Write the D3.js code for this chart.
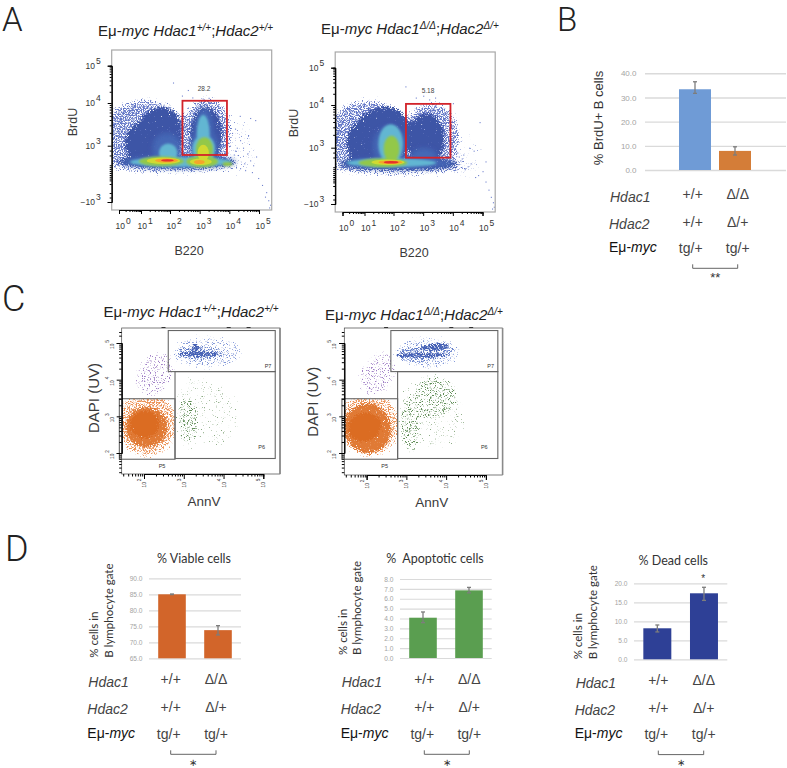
<!DOCTYPE html>
<html><head><meta charset="utf-8">
<style>body{margin:0;background:#fff}svg{display:block}text{font-family:"Liberation Sans",Arial,sans-serif}</style>
<script src="https://cdn.jsdelivr.net/npm/d3@7"></script></head>
<body><svg id="chart" width="787" height="768" viewBox="0 0 787 768"></svg>
<script>
/* ---------- bar chart values ---------- */
const brduValues=[33.4,7.9], brduLow=[31.7,6.2], brduHigh=[36.5,9.6];
const viableValues=[85.0,73.8], viableLow=[84.9,72.3], viableHigh=[85.1,75.2];
const apoptoticValues=[4.08,6.85], apoptoticLow=[3.58,6.6], apoptoticHigh=[4.66,7.15];
const deadValues=[8.16,17.37], deadLow=[7.2,15.5], deadHigh=[9.03,18.95];
const brduTicks=[0,10,20,30,40], viableTicks=[65,70,75,80,85,90], apoptoticTicks=[0,1,2,3,4,5,6,7,8], deadTicks=[0,5,10,15,20];
const hdac1Row=["+/+","Δ/Δ"], hdac2Row=["+/+","Δ/+"], mycRow=["tg/+","tg/+"];
const rowNames=["Hdac1","Hdac2"];
/* ---------- flow plots: density regions [level, xLo, xHi, yLo, yHi] in decade units ---------- */
const gateA1=[2.42,3.92,2.05,4.06], gateA2=[2.42,3.92,1.98,4.03];
const flowA1Blobs=[
[-1,3.85,5.0,-0.5,3.7],
[0,-0.86,2.67,0.31,4.15],[0,-0.6,1.6,0.4,4.1],[0,2.34,4.16,0.31,4.2],[0,-0.86,4.5,0,2.05],
[1,0.7,2.44,1.23,3.88],[1,1.0,2.42,2.4,3.95],[1,0.2,1.7,1.2,3.55],[1,2.64,3.8,1.23,3.93],[1,-0.32,4.35,0.61,2.05],
[2,1.4,2.38,1.23,3.3],[2,2.84,3.45,2.1,3.88],[2,2.67,3.62,1.23,3.37],[2,0.14,4.2,0.72,1.94],
[3,1.62,2.25,1.33,3.05],[3,2.9,3.34,2.1,3.72],[3,2.75,3.52,1.23,3.25],[3,0.5,4.07,0.82,1.84],
[4,2.87,3.45,1.33,3.2],[4,0.91,2.47,0.92,1.89],[4,2.54,3.62,0.82,1.94],[4,3.77,4.1,0.92,1.33],
[5,2.93,3.31,1.43,3.02],[5,1.2,2.34,1.13,1.79],[5,2.67,3.41,1.02,1.69],
[6,1.48,2.27,1.28,1.69],[6,2.81,3.17,1.13,1.54],
[7,1.69,2.13,1.38,1.62]];
const flowA2Blobs=[
[-1,3.85,5.1,-0.5,3.4],
[0,-0.86,2.67,0.31,4.19],[0,-0.6,1.6,0.4,4.15],[0,2.27,4.3,0.31,4.13],[0,-0.86,4.67,0,2.05],
[1,0.45,2.57,1.13,3.97],[1,0.95,2.55,2.4,4.0],[1,0.1,1.7,1.2,3.65],[1,2.44,3.77,1.23,3.84],[1,-0.32,4.35,0.61,2.05],
[2,1.3,2.42,1.23,3.5],[2,2.6,3.45,1.33,2.95],[2,-0.05,4.07,0.82,1.94],
[3,1.48,2.32,1.33,3.55],[3,0.18,3.45,1.02,1.89],
[4,1.66,2.2,1.53,3.28],[4,0.73,2.47,1.02,1.89],
[5,1.24,2.37,1.23,1.79],
[6,1.48,2.3,1.33,1.69],
[7,1.66,2.17,1.38,1.64]];
const sparseA1X=[5.10,5.24,5.31,5.37,5.20,5.34,4.97,4.76,4.53,4.36,4.70,4.87,4.70,4.63,4.36,4.19,4.46,4.29,4.09,4.19,4.02,4.9,4.5,4.35,4.15,4.25,2.1,2.6,2.4,2.75,3.1,3.3,4.6,4.8];
const sparseA1Y=[-1.1,-1.9,-2.8,-3.3,-2.4,-3.6,-0.33,0.3,0.5,0.7,1.5,3.6,3.65,3.25,3.13,3.4,2.8,2.05,3.3,2.5,3.0,1.9,1.2,3.7,2.1,2.8,4.55,4.35,4.2,4.15,4.12,4.14,2.2,1.0];
const sparseA2X=[5.0,5.1,5.2,5.28,5.35,5.38,5.32,4.85,4.75,4.6,4.5,4.4,4.3,4.2,4.15,4.05,4.9,5.1,4.7,4.55,4.35,4.25,4.1,2.4,2.75,3.0,3.2,3.4,4.0,4.1,3.95];
const sparseA2Y=[0.6,-0.5,-1.4,-2.2,-2.8,-3.3,-3.5,0.2,0.0,1.4,1.1,0.8,1.9,2.1,2.5,2.9,3.6,1.6,2.7,3.0,2.3,1.7,3.3,4.5,4.2,4.25,4.15,4.2,4.05,3.4,2.2];
/* ---------- apoptosis plots: [population, xLo, xHi, yLo, yHi, tilt] in decade units ---------- */
const gateP7=[2.61,5.30,4.22,5.34], gateP6=[2.78,5.30,1.85,4.22], gateP5=[1.38,2.78,1.83,3.48];
const flowC1Blobs=[
["purple",1.77,2.78,3.45,4.85,28],
["greenSparse",2.78,4.42,2.08,4.2,-30],["green",2.78,3.41,2.22,3.58,0],["greenSparse",2.78,3.5,2.0,4.2,0],
["orangeHalo",1.27,2.88,1.86,3.72,0],["orangeMid",1.5,2.62,2.12,3.3,-12],["orangeCore",1.62,2.42,2.38,3.17,-18],
["blueSparse",2.65,4.54,4.26,5.22,0],["blueMid",2.78,4.04,4.48,4.95,0],["blueCore",2.8,3.96,4.6,4.8,0],["blueCore",3.16,3.41,4.75,5.0,0]];
const flowC2Blobs=[
["purple",1.8,2.75,3.45,4.85,28],
["greenSparse",2.78,4.5,2.0,4.2,-30],["green",2.78,3.45,1.95,3.58,0],["green",3.08,4.34,2.9,4.13,-38],
["orangeHalo",1.27,2.88,1.86,3.72,0],["orangeMid",1.4,2.65,1.95,3.4,-14],["orangeCore",1.5,2.4,2.3,3.12,-20],
["blueSparse",2.65,4.4,4.26,5.22,0],["blueMid",2.7,4.25,4.45,5.0,-6],["blueCore",2.63,4.09,4.58,4.77,0],["blueCore",3.33,4.09,4.75,5.03,-6]];
const tickExpA=[0,1,2,3,4,5], tickExpAY=[-3,3,4,5], tickExpC=[2,3,4,5];

/* ---------- drawing ---------- */
const svg=d3.select("#chart"), defs=svg.append("defs");
const INK="#3a3a3a";
function rich(sel,segs){segs.forEach(s=>{const t=sel.append("tspan").text(s.t);
  if(s.i)t.style("font-style","italic");
  if(s.sup)t.attr("dy",-5.5).style("font-size","10px");
  if(s.back)t.attr("dy",5.5);});return sel;}
const titleWT=[{t:"Eμ-"},{t:"myc Hdac1",i:1},{t:"+/+",i:1,sup:1},{t:";",back:1},{t:"Hdac2",i:1},{t:"+/+",i:1,sup:1}];
const titleKO=[{t:"Eμ-"},{t:"myc Hdac1",i:1},{t:"Δ/Δ",i:1,sup:1},{t:";",back:1},{t:"Hdac2",i:1},{t:"Δ/+",i:1,sup:1}];
function label(x,y,txt,o={}){const t=svg.append("text").attr("x",x).attr("y",y).attr("fill",o.fill||INK)
  .style("font-size",(o.size||13)+"px").attr("text-anchor",o.anchor||"middle").text(txt);
  if(o.family)t.style("font-family",o.family);if(o.weight)t.style("font-weight",o.weight);if(o.italic)t.style("font-style","italic");
  if(o.rot!=null)t.attr("transform",`rotate(${o.rot} ${x} ${y})`);return t;}
[["A",2,30.7,33],["B",557,30.7,33],["C",2,311,36],["D",5,561,36]].forEach(d=>label(d[1],d[2],d[0],{anchor:"start",size:d[3],family:"Roboto,sans-serif",weight:300,fill:"#222"}));

function dither(id,color,gain,blur,seed){
  const f=defs.append("filter").attr("id",id).attr("filterUnits","userSpaceOnUse").attr("x",0).attr("y",0).attr("width",787).attr("height",768).attr("color-interpolation-filters","sRGB");
  f.append("feGaussianBlur").attr("in","SourceGraphic").attr("stdDeviation",blur).attr("result","b");
  f.append("feTurbulence").attr("type","fractalNoise").attr("baseFrequency",0.85).attr("numOctaves",2).attr("seed",seed).attr("result","n");
  f.append("feComposite").attr("in","b").attr("in2","n").attr("operator","arithmetic").attr("k1",0).attr("k2",gain).attr("k3",1).attr("k4",-1).attr("result","m");
  const c=f.append("feComponentTransfer").attr("in","m").attr("result","t");c.append("feFuncA").attr("type","linear").attr("slope",7).attr("intercept",0);
  f.append("feFlood").attr("flood-color",color).attr("result","fl");
  f.append("feComposite").attr("in","fl").attr("in2","t").attr("operator","in");
}
[1,2,3].forEach(b=>{defs.append("filter").attr("id","soft"+b).attr("x","-40%").attr("y","-60%").attr("width","180%").attr("height","220%").append("feGaussianBlur").attr("stdDeviation",[0,0.7,1.2,2.4][b]);});
defs.append("filter").attr("id","plotSoft").attr("filterUnits","userSpaceOnUse").attr("x",0).attr("y",0).attr("width",787).attr("height",768).append("feGaussianBlur").attr("stdDeviation",0.4);
dither("lvlS","#8c9bd8",0.34,4,2);
dither("lvl0","#6579c8",0.60,4,3);
dither("lvl1","#3d54a6",0.85,3,5);
const heat={2:["#4468b6","soft3"],3:["#62b6d2","soft2"],4:["#93c84a","soft2"],5:["#d0da32","soft1"],6:["#f5a52b","soft1"],7:["#e4312a","soft1"]};
function ell(g,x,y,b,color){const cx=(x(b[1])+x(b[2]))/2,cy=(y(b[3])+y(b[4]))/2;
  const e=g.append("ellipse").attr("cx",cx).attr("cy",cy).attr("rx",Math.abs(x(b[2])-x(b[1]))/2).attr("ry",Math.abs(y(b[4])-y(b[3]))/2).attr("fill",color||"#000");
  if(b[5])e.attr("transform",`rotate(${b[5]} ${cx} ${cy})`);return e;}
function exponentLabels(sel){sel.each(function(d){const t=d3.select(this).text("");
  t.append("tspan").text((d<0?"−":"")+"10");t.append("tspan").attr("dy",-5).attr("dx",1).text(Math.abs(d));});}

function flowA(dx,dy,id,blobs,gate,sx,sy,pct,pctX,pctY){
  const x=d3.scaleLinear().domain([0,1,2,5]).range([119,141,170,259].map(v=>v+dx));
  const y=d3.scaleLinear().domain([-3,0,3,4,5]).range([202,175,145.7,103,65.7].map(v=>v+dy));
  const L=111.7+dx,R=271.7+dx,T=50+dy,B=210+dy;
  defs.append("clipPath").attr("id",id).append("rect").attr("x",L).attr("y",T).attr("width",R-L).attr("height",B-T);
  const clip=svg.append("g").attr("clip-path",`url(#${id})`).append("g").attr("filter","url(#plotSoft)");
  for(let lv=-1;lv<=7;lv++){const sub=blobs.filter(b=>b[0]===lv);
    const fid=lv<0?"lvlS":lv<2?"lvl"+lv:heat[lv][1];
    const g=clip.append("g").attr("filter",`url(#${fid})`);
    sub.forEach(b=>ell(g,x,y,b,lv<2?"#000":heat[lv][0]));}
  clip.append("g").selectAll("rect").data(sx).join("rect").attr("x",d=>x(d)).attr("y",(d,i)=>y(sy[i])).attr("width",1.1).attr("height",1.1).attr("fill","#6f81ce");
  svg.append("rect").attr("x",L).attr("y",T).attr("width",R-L).attr("height",B-T).attr("fill","none").attr("stroke","#a8a8a8").attr("stroke-width",1.2);
  const minorX=[];[0,1,2,3,4].forEach(e=>d3.range(2,10).forEach(k=>minorX.push(e+Math.log10(k))));
  const minorY=[];[3,4].forEach(e=>d3.range(2,10).forEach(k=>minorY.push(e+Math.log10(k))));
  [-0.6,-0.4,-0.2,0.0,0.2,0.4,0.6,0.8,1,2,-1,-2,2.5,-2.5].forEach(v=>minorY.push(v));
  const xa=svg.append("g").attr("transform",`translate(0,${B})`);
  xa.call(d3.axisBottom(x).tickValues(minorX.filter(v=>x(v)<=R)).tickSize(2).tickFormat(""));
  xa.append("g").call(d3.axisBottom(x).tickValues(tickExpA).tickSize(4).tickPadding(9)).selectAll("text").attr("text-anchor","start").attr("x",-4).style("font-size","8.5px").attr("fill","#333").call(exponentLabels);
  const ya=svg.append("g").attr("transform",`translate(${L},0)`);
  ya.call(d3.axisLeft(y).tickValues(minorY).tickSize(2).tickFormat(""));
  ya.append("g").call(d3.axisLeft(y).tickValues(tickExpAY).tickSize(4).tickPadding(4)).selectAll("text").style("font-size","8.5px").attr("dx",-3).attr("fill","#333").call(exponentLabels);
  svg.append("rect").attr("x",x(gate[0])).attr("y",y(gate[3])).attr("width",x(gate[1])-x(gate[0])).attr("height",y(gate[2])-y(gate[3])).attr("fill","none").attr("stroke","#d2232a").attr("stroke-width",1.8);
  label(pctX,pctY,pct,{size:6.5,fill:"#444"});
}
flowA(0,0,"clipA1",flowA1Blobs,gateA1,sparseA1X,sparseA1Y,"28.2",204,90.5);
flowA(223.5,2,"clipA2",flowA2Blobs,gateA2,sparseA2X,sparseA2Y,"5.18",428,93);
rich(label(98,36,"",{anchor:"start",size:15,fill:"#222"}),titleWT);
rich(label(321,34,"",{anchor:"start",size:15,fill:"#222"}),titleKO);
label(189,255,"B220",{size:12.5});label(414,257,"B220",{size:12.5});
label(76.5,122,"BrdU",{size:12.5,rot:-90});label(298,123,"BrdU",{size:12.5,rot:-90});

dither("cOrangeHalo","#ec9256",0.54,3,7);
dither("cOrangeMid","#e07a36",0.80,2.8,8);
dither("cOrangeCore","#db6c24",0.98,3,9);
dither("cPurple","#a07fc6",0.43,3,11);
dither("cGreen","#5f8c55",0.43,2.5,12);
dither("cGreenSparse","#88a880",0.34,3,13);
dither("cBlueSparse","#8096d8",0.43,2.5,14);
dither("cBlueMid","#5c78c6",0.50,1.5,15);
dither("cBlueCore","#4460b4",0.64,1,16);
const cFilter={purple:"cPurple",green:"cGreen",greenSparse:"cGreenSparse",orangeHalo:"cOrangeHalo",orangeMid:"cOrangeMid",orangeCore:"cOrangeCore",blueSparse:"cBlueSparse",blueMid:"cBlueMid",blueCore:"cBlueCore"};
function flowC(dx,bottom,id,blobs){
  const x=d3.scaleLinear().domain([2,5]).range([144+dx,263.3+dx]);
  const y=d3.scaleLinear().domain([2,5]).range([453,343]);
  const L=121.7+dx,R=280+dx,T=328,B=bottom;
  defs.append("clipPath").attr("id",id).append("rect").attr("x",L).attr("y",T).attr("width",R-L).attr("height",B-T);
  defs.append("clipPath").attr("id",id+"o").append("rect").attr("x",x(gateP5[0])).attr("y",y(gateP5[3])).attr("width",x(gateP5[1])-x(gateP5[0])).attr("height",y(gateP5[2])-y(gateP5[3]));
  const clip=svg.append("g").attr("clip-path",`url(#${id})`).append("g").attr("filter","url(#plotSoft)");
  blobs.forEach(b=>{const isO=b[0].startsWith("orange");
    const host=isO?clip.append("g").attr("clip-path",`url(#${id}o)`):clip;
    const g=host.append("g").attr("filter",`url(#${cFilter[b[0]]})`);
    ell(g,x,y,b,"#000");});
  svg.append("rect").attr("x",L).attr("y",T).attr("width",R-L).attr("height",B-T).attr("fill","none").attr("stroke","#444").attr("stroke-width",0.7);
  svg.append("line").attr("x1",R).attr("x2",R).attr("y1",T).attr("y2",B).attr("stroke","#8a8a8a").attr("stroke-width",1.6);
  const gateRect=g=>svg.append("rect").attr("x",x(g[0])).attr("y",y(g[3])).attr("width",x(g[1])-x(g[0])).attr("height",y(g[2])-y(g[3])).attr("fill","none").attr("stroke","#666").attr("stroke-width",1.1);
  gateRect(gateP7);gateRect(gateP6);gateRect(gateP5);
  const minX=[],minY=[];[1,2,3,4].forEach(e=>d3.range(2,10).forEach(k=>{const v=e+Math.log10(k);if(x(v)>=L&&x(v)<=R)minX.push(v);if(y(v)>=T&&y(v)<=B)minY.push(v);}));
  [5.2,5.3].forEach(v=>minY.push(v));
  const xa=svg.append("g").attr("transform",`translate(0,${B})`);
  xa.call(d3.axisBottom(x).tickValues(minX).tickSize(2.5).tickFormat(""));
  xa.append("g").call(d3.axisBottom(x).tickValues(tickExpC).tickSize(5).tickPadding(3)).selectAll("text").style("font-size","4.8px").attr("fill","#333").attr("text-anchor","middle").attr("y",0).attr("dy",0).attr("transform","translate(1.5,9) rotate(-90)").call(exponentLabels);
  const ya=svg.append("g").attr("transform",`translate(${L},0)`);
  ya.call(d3.axisLeft(y).tickValues(minY).tickSize(2.5).tickFormat(""));
  ya.append("g").call(d3.axisLeft(y).tickValues(tickExpC).tickSize(5).tickPadding(3)).selectAll("text").style("font-size","4.8px").attr("fill","#333").attr("text-anchor","middle").attr("x",0).attr("dy",0).attr("transform","translate(-8,1) rotate(-90)").call(exponentLabels);
  [2.49,4.13,4.63].forEach(v=>svg.append("line").attr("x1",x(v)-2).attr("x2",x(v)+2).attr("y1",T-0.5).attr("y2",T-0.5).attr("stroke","#333").attr("stroke-width",1));
  [["P7",268,367.5],["P6",261.7,449],["P5",162,468]].forEach(d=>label(d[1]+dx,d[2],d[0],{size:5.5,fill:"#333"}));
}
flowC(0,474,"clipC1",flowC1Blobs);
flowC(222.6,475,"clipC2",flowC2Blobs);
rich(label(103.5,317,"",{anchor:"start",size:15,fill:"#222"}),titleWT);
rich(label(325,320,"",{anchor:"start",size:15,fill:"#222"}),titleKO);
label(99,398,"DAPI (UV)",{size:15,rot:-90});label(318,401.7,"DAPI (UV)",{size:15,rot:-90});
label(204,506,"AnnV",{size:13.5});label(431.7,506.7,"AnnV",{size:13.5});

function barPanel(o){
  const x=d3.scaleBand().domain([0,1]).range(o.band).paddingInner(o.pad).paddingOuter(o.pad/2);
  const y=d3.scaleLinear().domain(o.domain).range([o.y0,o.y1]);
  const colors=[].concat(o.color);
  const g=svg.append("g");
  const ax=g.append("g").attr("transform",`translate(${o.gx0},0)`).call(d3.axisLeft(y).tickValues(o.ticks).tickSize(-(o.gx1-o.gx0)).tickPadding(o.tickPad||6.5).tickFormat(d3.format(".1f")));
  ax.select(".domain").remove();
  ax.selectAll("line").attr("stroke","#dadada").attr("stroke-width",o.gridW||1.2);
  ax.selectAll("text").attr("fill","#a4a4a4").style("font-size",(o.tickSize||6.6)+"px");
  const bw=x.bandwidth();
  g.selectAll(".bar").data(o.values).join("rect").attr("class","bar").attr("x",(d,i)=>x(i)).attr("width",bw).attr("y",d=>y(d)).attr("height",d=>o.y0-y(d)).attr("fill",(d,i)=>colors[i%colors.length]);
  const err=g.selectAll(".err").data(o.values).join("g").attr("class","err").attr("stroke","#7d7d7d").attr("stroke-width",1.3);
  err.append("line").attr("x1",(d,i)=>x(i)+bw/2).attr("x2",(d,i)=>x(i)+bw/2).attr("y1",(d,i)=>y(o.low[i])).attr("y2",(d,i)=>y(o.high[i]));
  err.append("line").attr("x1",(d,i)=>x(i)+bw/2-2).attr("x2",(d,i)=>x(i)+bw/2+2).attr("y1",(d,i)=>y(o.low[i])).attr("y2",(d,i)=>y(o.low[i]));
  err.append("line").attr("x1",(d,i)=>x(i)+bw/2-2).attr("x2",(d,i)=>x(i)+bw/2+2).attr("y1",(d,i)=>y(o.high[i])).attr("y2",(d,i)=>y(o.high[i]));
}
function table(o){
  label(o.nameX,o.r1+3,rowNames[0],{anchor:"start",size:14,italic:1,fill:"#444"});
  label(o.nameX-1,o.r2+2,rowNames[1],{anchor:"start",size:14,italic:1,fill:"#444"});
  const m=label(o.nameX-1,o.r3,"",{anchor:"start",size:14,fill:"#111"});rich(m,[{t:"Eμ-"},{t:"myc",i:1}]);
  o.cols.forEach((c,i)=>{label(c,o.r1,hdac1Row[i],{size:14,fill:"#444"});label(c,o.r2,hdac2Row[i],{size:14,fill:"#444"});label(c-(i?0:2),o.r3+1,mycRow[i],{size:14,fill:"#444"});});
  const by=o.r3+16.6;
  svg.append("path").attr("d",`M${o.cols[0]},${by-4}V${by}H${o.cols[1]}V${by-4}`).attr("fill","none").attr("stroke","#555").attr("stroke-width",0.9);
  label((o.cols[0]+o.cols[1])/2,by+o.starDy,o.star,{size:o.starSize,fill:"#333"});
}
const LATO="Lato,'Open Sans',sans-serif";
barPanel({values:brduValues,low:brduLow,high:brduHigh,color:["#6f9bd6","#d47d38"],domain:[0,40],ticks:brduTicks,band:[675,755],pad:0.2,y0:170,y1:73.3,gx0:645,gx1:786,gridW:1.4,tickSize:8,tickPad:8.5});
label(603,118,"% BrdU+ B cells",{size:13,rot:-90,fill:"#333"});
table({nameX:610,r1:198.5,r2:226.7,r3:251.7,cols:[692.7,737.7],star:"**",starDy:14,starSize:13});

barPanel({values:viableValues,low:viableLow,high:viableHigh,color:"#d2652a",domain:[65,90],ticks:viableTicks,band:[149,241],pad:0.4,y0:658.3,y1:578.3,gx0:149,gx1:241});
label(194,563.3,"% Viable cells",{size:12.5,family:LATO,fill:"#333"});
label(97.7,657.7,"% cells in",{size:11.5,rot:-90,anchor:"start",family:LATO,fill:"#333"});
label(112.7,657.7,"B lymphocyte gate",{size:11.5,rot:-90,anchor:"start",family:LATO,fill:"#333"});
table({nameX:88.3,r1:684.3,r2:712.3,r3:737.7,cols:[170.7,216],star:"∗",starDy:11.5,starSize:10});

barPanel({values:apoptoticValues,low:apoptoticLow,high:apoptoticHigh,color:"#5a9e50",domain:[0,8],ticks:apoptoticTicks,band:[400,492],pad:0.4,y0:658,y1:579,gx0:400,gx1:491.7});
label(435,563.3,"%  Apoptotic cells",{size:12.5,family:LATO,fill:"#333"}).style("white-space","pre");
label(346.7,655,"% cells in",{size:11.5,rot:-90,anchor:"start",family:LATO,fill:"#333"});
label(361,655,"B lymphocyte gate",{size:11.5,rot:-90,anchor:"start",family:LATO,fill:"#333"});
table({nameX:341.7,r1:684.3,r2:712.3,r3:737.7,cols:[424.3,469.3],star:"∗",starDy:11.5,starSize:10});

barPanel({values:deadValues,low:deadLow,high:deadHigh,color:"#2e4096",domain:[0,20],ticks:deadTicks,band:[634,727.3],pad:0.4,y0:659.3,y1:583.3,gx0:634,gx1:727.3});
label(673.3,565,"% Dead cells",{size:12.5,family:LATO,fill:"#333"});
label(581.7,659.3,"% cells in",{size:11.5,rot:-90,anchor:"start",family:LATO,fill:"#333"});
label(596.7,659.3,"B lymphocyte gate",{size:11.5,rot:-90,anchor:"start",family:LATO,fill:"#333"});
label(703.3,582,"*",{size:10,fill:"#333"});
table({nameX:575.7,r1:684.6,r2:713,r3:738,cols:[658.3,703.7],star:"∗",starDy:11.2,starSize:10});
</script></body></html>
